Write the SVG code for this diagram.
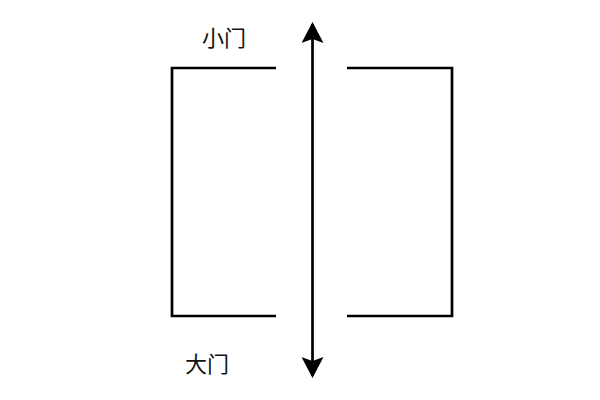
<svg xmlns="http://www.w3.org/2000/svg" width="600" height="400" viewBox="0 0 600 400">
<style>
.w{fill:none;stroke:#000;stroke-width:2.7}
.t{font-family:"Liberation Sans","Noto Sans CJK SC",sans-serif;font-size:22px;fill:#111}
</style>
<defs>
<marker id="ah" viewBox="0 0 22 22" refX="19" refY="11" markerWidth="22" markerHeight="22" markerUnits="userSpaceOnUse" orient="auto-start-reverse">
<path d="M0,0 L21,11 L0,22 L4,11 Z" fill="#000"/>
</marker>
</defs>
<rect width="600" height="400" fill="#fff"/>
<g id="left-wall"><path class="w" d="M276,68 H172 V316 H276"/></g>
<g id="right-wall"><path class="w" d="M347,68 H452 V316 H347"/></g>
<g id="labels">
<text class="t" x="224" y="46" text-anchor="middle">小门</text>
<text class="t" x="207" y="372" text-anchor="middle">大门</text>
</g>
<g id="connectors">
<line x1="312.5" y1="24" x2="312.5" y2="376" stroke="#000" stroke-width="2.7" marker-start="url(#ah)" marker-end="url(#ah)"/>
</g>
</svg>
